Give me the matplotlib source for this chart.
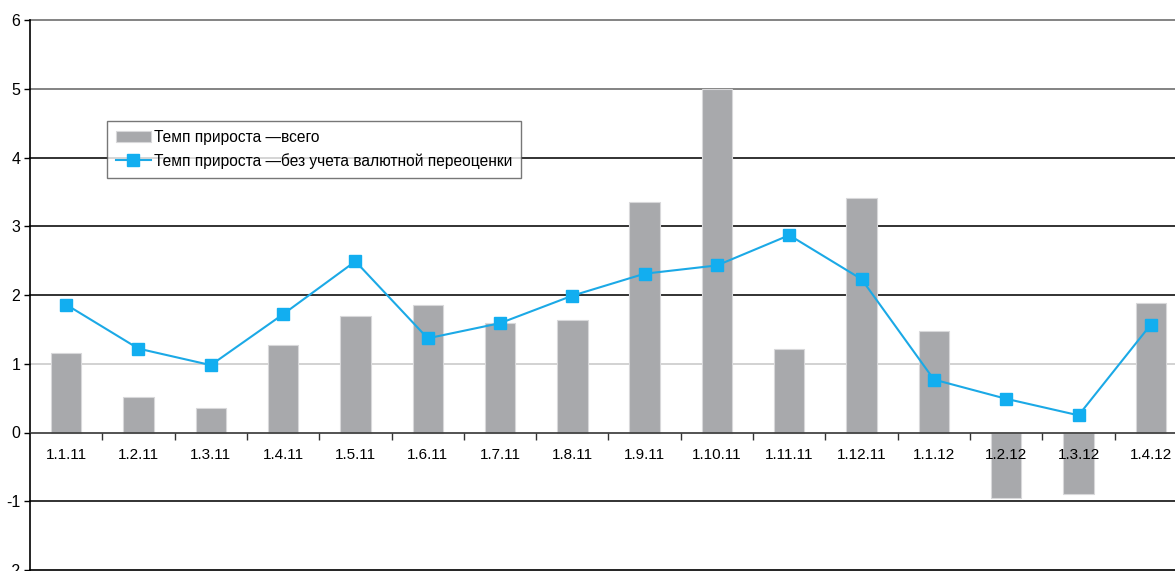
import matplotlib
matplotlib.use("Agg")
import matplotlib.pyplot as plt
import numpy as np

plt.rcParams['font.family'] = ['Liberation Sans', 'DejaVu Sans']
plt.rcParams['axes.unicode_minus'] = False

# monthly dates and growth rates, %
dates = ["1.1.11", "1.2.11", "1.3.11", "1.4.11", "1.5.11", "1.6.11", "1.7.11", "1.8.11",
         "1.9.11", "1.10.11", "1.11.11", "1.12.11", "1.1.12", "1.2.12", "1.3.12", "1.4.12"]
total = [1.15, 0.52, 0.35, 1.28, 1.69, 1.86, 1.59, 1.64,
         3.36, 5.0, 1.21, 3.41, 1.47, -0.95, -0.89, 1.88]
no_fx = [1.86, 1.22, 0.98, 1.72, 2.49, 1.37, 1.59, 1.99,
         2.31, 2.43, 2.87, 2.23, 0.77, 0.49, 0.25, 1.57]
yticks = [-2, -1, 0, 1, 2, 3, 4, 5, 6]
grid_colors = {-2: "#111111", -1: "#222222", 1: "#cfcfcf", 2: "#222222",
               3: "#222222", 4: "#222222", 5: "#7a7a7a", 6: "#7a7a7a"}

fig = plt.figure(figsize=(11.75, 5.71), dpi=100)
ax = fig.add_axes([30 / 1175, 1 / 571, 1157 / 1175, 550 / 571])
ax.set_axisbelow(False)

x = np.arange(len(dates))
for lvl, c in grid_colors.items():
    ax.axhline(lvl, color=c, lw=1.3, zorder=1, clip_on=False)

bars = ax.bar(x, total, width=0.42, color="#a8a9ac", edgecolor="#d8d8da", linewidth=0.8,
              zorder=2, label="Темп прироста —всего")
line, = ax.plot(x, no_fx, color="#1ba9e6", lw=1.5, marker="s", markersize=9,
                markerfacecolor="#12aef0", markeredgecolor="#12aef0", zorder=3,
                label="Темп прироста —без учета валютной переоценки")

ax.set_xlim(-0.5, len(dates) - 0.5)
ax.set_ylim(-2, 6)
ax.set_yticks(yticks)
ax.tick_params(axis="y", length=4, width=1, pad=3, labelsize=11.5)

for s in ("top", "right"):
    ax.spines[s].set_visible(False)
ax.spines["left"].set_linewidth(1.2)
ax.spines["bottom"].set_position(("data", 0))
ax.spines["bottom"].set_color("#444444")
ax.spines["bottom"].set_linewidth(1.3)
ax.set_xticks(x[:-1] + 0.5)
ax.set_xticklabels([])
ax.set_xticks(x, minor=True)
ax.set_xticklabels(dates, minor=True)
ax.tick_params(axis="x", which="major", length=5, width=1, direction="out", color="#333333")
ax.tick_params(axis="x", which="minor", length=0, pad=11, labelsize=11)

leg = ax.legend([bars, line], [bars.get_label(), line.get_label()],
                loc="upper left", bbox_to_anchor=((107 - 30) / 1157, (570 - 121) / 550),
                fontsize=11.2, frameon=True, fancybox=False, handlelength=2.2,
                handletextpad=0.2, borderpad=0.6, labelspacing=0.5, borderaxespad=0)
leg.get_frame().set_edgecolor("#555555")
leg.get_frame().set_linewidth(1.0)
leg.set_zorder(5)

fig.savefig("out.png", dpi=100)
